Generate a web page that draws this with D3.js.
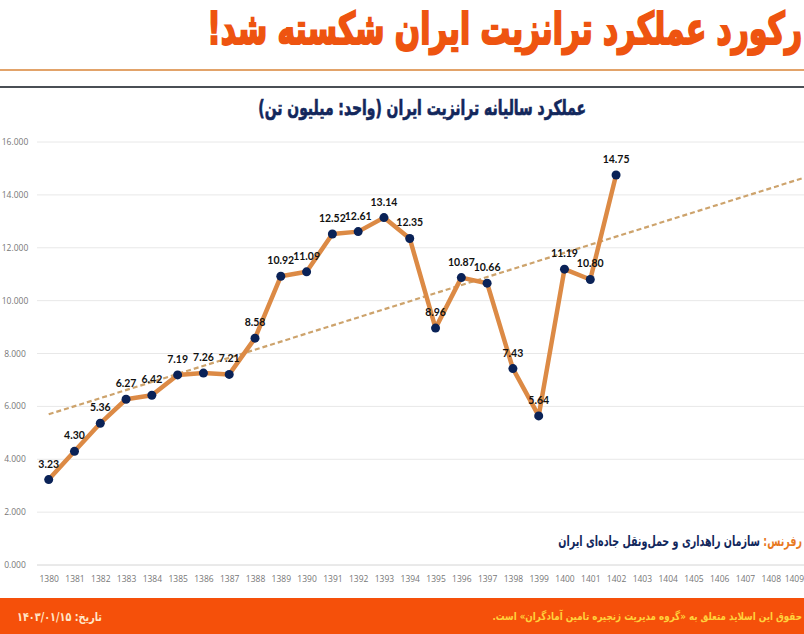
<!DOCTYPE html>
<html lang="fa">
<head>
<meta charset="utf-8">
<script src="https://cdn.jsdelivr.net/npm/d3@7"></script>
<style>
  html, body { margin: 0; padding: 0; background: #fff; overflow: hidden; }
  svg { display: block; }
  .fa { font-family: "DejaVu Sans", sans-serif; font-weight: bold; direction: rtl; }
  .tick-label { font-family: "Open Sans", sans-serif; font-size: 8.5px; fill: #777; }
  .value-label { font-family: "Lato", sans-serif; font-weight: 700; font-size: 10.5px; fill: #111; text-anchor: middle; }
</style>
</head>
<body>
<svg id="chart" width="804" height="634"></svg>
<script>
// values
const years = d3.range(1380, 1410);
const performance = [3.23, 4.30, 5.36, 6.27, 6.42, 7.19, 7.26, 7.21, 8.58, 10.92, 11.09, 12.52, 12.61, 13.14, 12.35, 8.96, 10.87, 10.66, 7.43, 5.64, 11.19, 10.80, 14.75];
const trendYears = [1380, 1409.3];
const trendValues = [5.7, 14.65];
const yTicks = [0, 2, 4, 6, 8, 10, 12, 14, 16];

const svg = d3.select("#chart");

const x = d3.scaleLinear().domain([1380, 1408]).range([48.7, 770.8]);
const y = d3.scaleLinear().domain([0, 16]).range([565, 142]);

// squeeze a persian text into a box, the font here is wider than the original one
function fitText(sel, right, baseline, width, scaleY) {
  const w = sel.node().getComputedTextLength();
  sel.attr("transform", `translate(${right},${baseline}) scale(${width / w},${scaleY})`);
}

// header and rules
const title = svg.append("text").attr("class", "fa")
  .attr("font-size", 40)
  .attr("fill", "#ee5410").attr("stroke", "#ee5410").attr("stroke-width", 2)
  .text("رکورد عملکرد ترانزیت ایران شکسته شد!");
fitText(title, 802, 44, 595, 1.1);

svg.append("rect").attr("x", 0).attr("y", 69).attr("width", 804).attr("height", 2).attr("fill", "#e2a36a");
svg.append("rect").attr("x", 0).attr("y", 86).attr("width", 804).attr("height", 2).attr("fill", "#4a4f55");

const subtitle = svg.append("text").attr("class", "fa")
  .attr("font-size", 18)
  .attr("fill", "#12275c").attr("stroke", "#12275c").attr("stroke-width", 0.6)
  .text("عملکرد سالیانه ترانزیت ایران (واحد: میلیون تن)");
fitText(subtitle, 586, 115, 328, 1.15);

// grid
svg.append("g").selectAll("line").data(yTicks).join("line")
  .attr("x1", 37).attr("x2", 804)
  .attr("y1", d => y(d)).attr("y2", d => y(d))
  .attr("stroke", d => d === 0 ? "#d4d4d4" : "#e8e8e8").attr("stroke-width", 1);

svg.append("g").selectAll("text").data(yTicks).join("text")
  .attr("class", "tick-label")
  .attr("x", 15).attr("y", d => y(d) + 3)
  .attr("text-anchor", "middle")
  .text(d => d3.format(".3f")(d));

// x axis
const xAxis = d3.axisBottom(x).tickValues(years).tickFormat(d => d).tickSize(0).tickPadding(11);
const axisG = svg.append("g").attr("transform", `translate(0,${y(0)})`).call(xAxis);
axisG.select(".domain").remove();
axisG.selectAll("text").attr("class", "tick-label").attr("font-family", null).attr("font-size", null);
// last label sits right at the edge
axisG.selectAll(".tick").filter(d => d === 1409).select("text").attr("text-anchor", "end").attr("x", 7);

// trend line
const trendLine = d3.line().x(d => x(d[0])).y(d => y(d[1]));
svg.append("path")
  .attr("d", trendLine(d3.zip(trendYears, trendValues)))
  .attr("fill", "none").attr("stroke", "#cda36c").attr("stroke-width", 2.2).attr("stroke-dasharray", "5,3");

// performance line
const series = performance.map((v, i) => ({ year: years[i], value: v }));
const line = d3.line().x(d => x(d.year)).y(d => y(d.value));
svg.append("path")
  .attr("d", line(series))
  .attr("fill", "none").attr("stroke", "#dc8a45").attr("stroke-width", 4.5).attr("stroke-linejoin", "round");

svg.append("g").selectAll("circle").data(series).join("circle")
  .attr("cx", d => x(d.year)).attr("cy", d => y(d.value)).attr("r", 4.5)
  .attr("fill", "#0a2257");

svg.append("g").selectAll("text").data(series).join("text")
  .attr("class", "value-label")
  .attr("x", d => x(d.year)).attr("y", d => y(d.value) - 12)
  .text(d => d.value.toFixed(2));

// source note
const source = svg.append("text").attr("class", "fa").attr("font-size", 13);
source.append("tspan").attr("fill", "#e8791f").text("رفرنس: ");
source.append("tspan").attr("fill", "#12275c").text("سازمان راهداری و حمل‌ونقل جاده‌ای ایران");
fitText(source, 802, 546, 244, 1.1);

// footer
svg.append("rect").attr("x", 0).attr("y", 598).attr("width", 804).attr("height", 36).attr("fill", "#f5500a");
const rights = svg.append("text").attr("class", "fa")
  .attr("font-size", 10.5).attr("fill", "#ffd23c")
  .text("حقوق این اسلاید متعلق به «گروه مدیریت زنجیره تامین آمادگران» است.");
fitText(rights, 802, 620, 310, 1.05);
const dateLabel = svg.append("text").attr("class", "fa")
  .attr("font-size", 11.5).attr("fill", "#ffe6c8")
  .text("تاریخ: ۱۴۰۳/۰۱/۱۵");
fitText(dateLabel, 102, 621, 85, 1.05);
</script>
</body>
</html>
